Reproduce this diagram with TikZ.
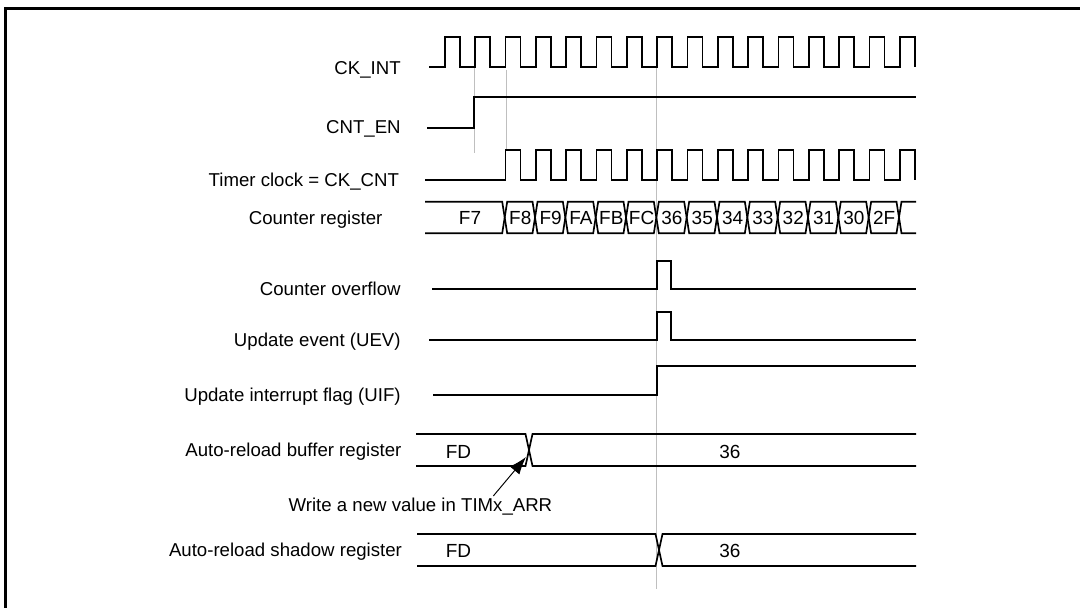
\documentclass[tikz,border=0pt]{standalone}
\usepackage{fontspec}
\setmainfont{Liberation Sans}
\usetikzlibrary{arrows.meta}

\begin{document}
\begin{tikzpicture}[x=0.02cm, y=-0.02cm,
  sig/.style={line width=0.95pt, line join=miter},
  guide/.style={draw=black!25, line width=0.45pt},
  frame/.style={line width=1.2pt},
  lbl/.style={anchor=base east, inner sep=0pt, font=\fontsize{10.6}{13}\selectfont},
  val/.style={anchor=base, inner sep=0pt, font=\fontsize{10.8}{13}\selectfont},
  wrarrow/.style={-{Latex[length=10pt,width=7pt]}, line width=0.55pt},
]
\useasboundingbox (0,0) rectangle (1080,608);
\clip (0,0) rectangle (1080,608);
\draw[frame] (5.5,8.5) rectangle (1100,640);
% === Guide lines ===
\draw[guide] (474.3,66.7) -- (474.3,152.7);
\draw[guide] (506,70) -- (506,150);
\draw[guide] (656.7,66.7) -- (656.7,588.7);
% === Signal names ===
\node[lbl] (nckint) at (401,74.5) {CK\_INT};
\node[lbl] (ncnten) at (401,134) {CNT\_EN};
\node[lbl] (nckcnt) at (399.3,186.5) {Timer clock = CK\_CNT};
\node[lbl] (ncnt) at (382.7,224.3) {Counter register};
\node[lbl] (novf) at (401,296) {Counter overflow};
\node[lbl] (nuev) at (401,346.7) {Update event (UEV)};
\node[lbl] (nuif) at (401,401.7) {Update interrupt flag (UIF)};
\node[lbl] (narrbuf) at (401.7,457) {Auto-reload buffer register};
\node[lbl] (narrsh) at (402.3,556.7) {Auto-reload shadow register};
% === Clocks ===
\draw[sig] (429,66.7) \foreach \k in {0,...,15}{
  -- ({445+30.33*\k},66.7) -- ({445+30.33*\k},36.7)
  -- ({460+30.33*\k},36.7) -- ({460+30.33*\k},66.7)};
\draw[sig] (427,127.7) -- (474.3,127.7) -- (474.3,96.7) -- (916,96.7);
\draw[sig] (425,180) \foreach \k in {2,...,15}{
  -- ({445+30.33*\k},180) -- ({445+30.33*\k},150)
  -- ({460+30.33*\k},150) -- ({460+30.33*\k},180)};
% === Counter register ===
\draw[sig] (425,201.7) -- (502.2,201.7) -- (504.7,217.5) -- (502.2,233.3) -- (425,233.3);
\node[val] (vf7) at (470,224.3) {F7};
\foreach \v [count=\k from 0] in {F8,F9,FA,FB,FC,36,35,34,33,32,31,30,2F}{
  \draw[sig] ({504.7+30.33*\k},217.5) -- ++(2.5,-15.8) -- ({504.7+30.33*(\k+1)-2.5},201.7)
    -- ++(2.5,15.8) -- ++(-2.5,15.8) -- ({504.7+30.33*\k+2.5},233.3) -- cycle;
  \node[val] (v\k) at ({504.7+30.33*\k+15.6},224.3) {\v};
}
\draw[sig] (899,217.5) -- ++(2.5,-15.8) -- (916,201.7);
\draw[sig] (899,217.5) -- ++(2.5,15.8) -- (916,233.3);
% === Overflow, UEV, UIF ===
\draw[sig] (432,289) -- (656.7,289) -- (656.7,260.7) -- (671,260.7) -- (671,289) -- (916,289);
\draw[sig] (429.3,340) -- (656.7,340) -- (656.7,312.3) -- (671,312.3) -- (671,340) -- (916,340);
\draw[sig] (433.4,395.3) -- (656.7,395.3) -- (656.7,366) -- (916,366);
% === Auto-reload registers ===
\draw[sig] (416,434) -- (525.5,434) -- (532.5,466) -- (916,466);
\draw[sig] (416,466) -- (525.5,466) -- (532.5,434) -- (916,434);
\node[val] (vbuffd) at (458.5,458.3) {FD};
\node[val] (vbuf36) at (729.9,458.3) {36};
\draw[sig] (417,534) -- (655.5,534) -- (662.5,566) -- (916,566);
\draw[sig] (417,566) -- (655.5,566) -- (662.5,534) -- (916,534);
\node[val] (vshfd) at (458.5,557.7) {FD};
\node[val] (vsh36) at (729.9,557.7) {36};
% === Write note ===
\node[lbl, anchor=base west] (wrnote) at (288.3,511.7) {Write a new value in TIMx\_ARR};
\coordinate (wrtail) at (493.3,496);
\coordinate (wrtip) at (526,457);
\draw[wrarrow] (wrtail) -- (wrtip);
\end{tikzpicture}
\end{document}
